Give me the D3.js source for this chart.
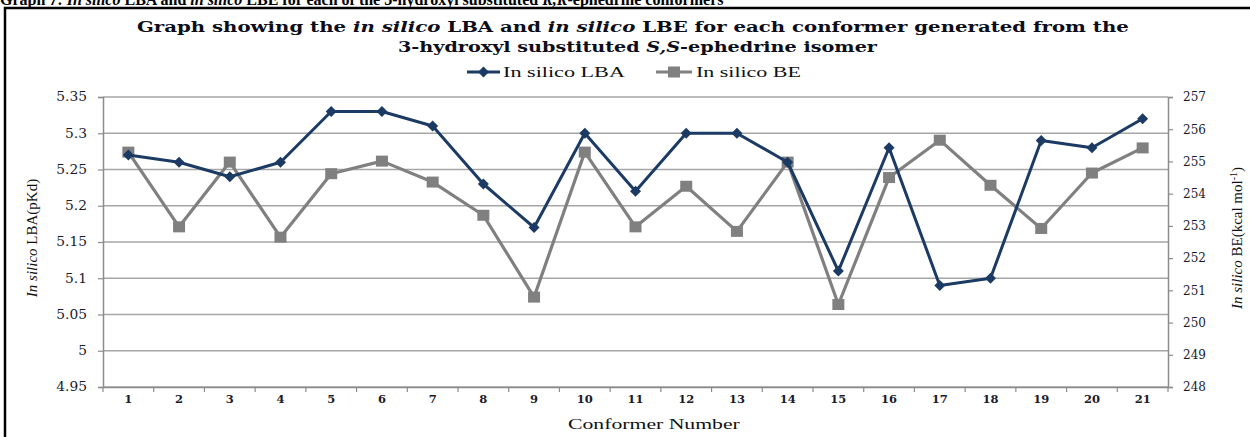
<!DOCTYPE html>
<html>
<head>
<meta charset="utf-8">
<script src="https://cdn.jsdelivr.net/npm/d3@7"></script>
<style>
html,body{margin:0;padding:0;background:#fff;}
svg{display:block;}
</style>
</head>
<body>
<script>
const conformers = ["1","2","3","4","5","6","7","8","9","10","11","12","13","14","15","16","17","18","19","20","21"];
const lbaValues = [5.27,5.26,5.24,5.26,5.33,5.33,5.31,5.23,5.17,5.30,5.22,5.30,5.30,5.26,5.11,5.28,5.09,5.10,5.29,5.28,5.32];
const beValues = [255.29,252.97,254.98,252.65,254.62,255.01,254.36,253.33,250.79,255.29,252.97,254.23,252.83,254.98,250.56,254.50,255.66,254.26,252.92,254.64,255.42];
const lbaTicks = [4.95,5,5.05,5.1,5.15,5.2,5.25,5.3,5.35];
const beTicks = [248,249,250,251,252,253,254,255,256,257];

const W = 1250, H = 437;
const m = {left:103, right:1168, top:97, bottom:387};
const navy = "#1b3a64", gray = "#808080", grid = "#a6a6a6", axisCol = "#8c8c8c";

const svg = d3.select("body").append("svg").attr("width",W).attr("height",H);

// horizontally stretch a text element to a target width, keeping an anchor x
function stretch(t, target, ax){
  const w = t.node().getComputedTextLength();
  const s = target / w;
  const y = +t.attr("y");
  t.attr("transform",`translate(${ax},0) scale(${s},1) translate(${-ax},0)`);
}

// frame
svg.append("rect").attr("x",5).attr("y",8).attr("width",1300).attr("height",500)
  .attr("fill","none").attr("stroke","#000").attr("stroke-width",2.5);

// clipped header
const hdr = svg.append("text").attr("x",0).attr("y",5)
  .attr("font-family","Liberation Serif").attr("font-weight","bold").attr("font-size",16);
hdr.append("tspan").text("Graph 7: ");
hdr.append("tspan").attr("font-style","italic").text("In silico");
hdr.append("tspan").text(" LBA and ");
hdr.append("tspan").attr("font-style","italic").text("in silico");
hdr.append("tspan").text(" LBE for each of the 3-hydroxyl substituted ");
hdr.append("tspan").attr("font-style","italic").text("R,R");
hdr.append("tspan").text("-ephedrine conformers");

const x = d3.scaleBand().domain(conformers).range([m.left,m.right]);
const yL = d3.scaleLinear().domain([4.95,5.35]).range([m.bottom,m.top]);
const yR = d3.scaleLinear().domain([248,257]).range([m.bottom,m.top]);
const cx = d => x(d) + x.bandwidth()/2;

// gridlines
svg.append("g").selectAll("line").data(lbaTicks).join("line")
  .attr("x1",m.left).attr("x2",m.right)
  .attr("y1",d=>yL(d)).attr("y2",d=>yL(d))
  .attr("stroke",grid).attr("stroke-width",1.5);

const tickFont = "DejaVu Serif";
// left axis
const gL = svg.append("g").attr("transform",`translate(${m.left},0)`)
  .call(d3.axisLeft(yL).tickValues(lbaTicks).tickSize(5).tickPadding(11).tickFormat(d=>String(+d.toFixed(2))));
gL.select(".domain").attr("stroke",axisCol).attr("stroke-width",1.5);
gL.selectAll(".tick line").attr("stroke",axisCol).attr("stroke-width",1.2);
gL.selectAll(".tick text").attr("font-family",tickFont).attr("font-size",12).attr("fill","#1a1a2a")
  .attr("x",-16/1.15).attr("transform","scale(1.15,1)");

// right axis
const gR = svg.append("g").attr("transform",`translate(${m.right},0)`)
  .call(d3.axisRight(yR).tickValues(beTicks).tickSize(5).tickPadding(10).tickFormat(d3.format("d")));
gR.select(".domain").attr("stroke",axisCol).attr("stroke-width",1.5);
gR.selectAll(".tick line").attr("stroke",axisCol).attr("stroke-width",1.2);
gR.selectAll(".tick text").attr("font-family",tickFont).attr("font-size",12).attr("fill","#1a1a2a");

// bottom axis
const gB = svg.append("g").attr("transform",`translate(0,${m.bottom})`)
  .call(d3.axisBottom(x).tickSize(0).tickPadding(8));
gB.select(".domain").attr("stroke",axisCol).attr("stroke-width",1.5);
gB.selectAll(".tick text").attr("font-family",tickFont).attr("font-weight","bold").attr("font-size",11.5).attr("fill","#1a1a2a");
gB.append("g").selectAll("line").data(conformers.concat(["end"])).join("line")
  .attr("x1",(d,i)=>m.left + i*x.step()).attr("x2",(d,i)=>m.left + i*x.step())
  .attr("y1",0).attr("y2",5).attr("stroke",axisCol).attr("stroke-width",1.2);

// lines
const lineL = d3.line().x((d,i)=>cx(conformers[i])).y(d=>yL(d));
const lineR = d3.line().x((d,i)=>cx(conformers[i])).y(d=>yR(d));
svg.append("path").datum(beValues).attr("d",lineR).attr("fill","none")
  .attr("stroke",gray).attr("stroke-width",3.2).attr("stroke-linejoin","round");
svg.append("g").selectAll("rect").data(beValues).join("rect")
  .attr("x",(d,i)=>cx(conformers[i])-6).attr("y",d=>yR(d)-5.5)
  .attr("width",12).attr("height",11).attr("fill",gray);
svg.append("path").datum(lbaValues).attr("d",lineL).attr("fill","none")
  .attr("stroke",navy).attr("stroke-width",3).attr("stroke-linejoin","round");
svg.append("g").selectAll("path").data(lbaValues).join("path")
  .attr("transform",(d,i)=>`translate(${cx(conformers[i])},${yL(d)})`)
  .attr("d","M0,-5.5L5.5,0L0,5.5L-5.5,0Z")
  .attr("fill",navy);

// title
const titleFont = "DejaVu Serif";
const t1 = svg.append("text").attr("x",137).attr("y",32)
  .attr("font-family",titleFont).attr("font-weight","bold").attr("font-size",15).attr("fill","#0d0d1a");
t1.append("tspan").text("Graph showing the ");
t1.append("tspan").attr("font-style","italic").text("in silico");
t1.append("tspan").text(" LBA and ");
t1.append("tspan").attr("font-style","italic").text("in silico");
t1.append("tspan").text(" LBE for each conformer generated from the");
stretch(t1, 993, 137);
const t2 = svg.append("text").attr("x",398).attr("y",52)
  .attr("font-family",titleFont).attr("font-weight","bold").attr("font-size",15).attr("fill","#0d0d1a");
t2.append("tspan").text("3-hydroxyl substituted ");
t2.append("tspan").attr("font-style","italic").text("S,S");
t2.append("tspan").text("-ephedrine isomer");
stretch(t2, 479, 398);

// legend
const lg = svg.append("g").attr("font-family","Liberation Serif").attr("font-size",15).attr("fill","#111");
lg.append("line").attr("x1",467).attr("x2",500).attr("y1",72).attr("y2",72).attr("stroke",navy).attr("stroke-width",3);
lg.append("path").attr("transform","translate(483.5,72)").attr("d","M0,-5.5L5.5,0L0,5.5L-5.5,0Z").attr("fill",navy);
const l1 = lg.append("text").attr("x",503).attr("y",77).text("In silico LBA");
stretch(l1, 122, 503);
lg.append("line").attr("x1",656).attr("x2",692).attr("y1",72).attr("y2",72).attr("stroke",gray).attr("stroke-width",3);
lg.append("rect").attr("x",668).attr("y",66.5).attr("width",12).attr("height",11).attr("fill",gray);
const l2 = lg.append("text").attr("x",696).attr("y",77).text("In silico BE");
stretch(l2, 105, 696);

// axis titles
const at = svg.append("text").attr("transform","translate(37,238) rotate(-90)").attr("text-anchor","middle")
  .attr("font-family","Liberation Serif").attr("font-size",15).attr("fill","#111");
at.append("tspan").attr("font-style","italic").text("In silico");
at.append("tspan").text(" LBA(pKd)");

const ar = svg.append("text").attr("transform","translate(1242,238) rotate(-90)").attr("text-anchor","middle")
  .attr("font-family","Liberation Serif").attr("font-size",15).attr("fill","#111");
ar.append("tspan").attr("font-style","italic").text("In silico");
ar.append("tspan").text(" BE(kcal mol");
ar.append("tspan").attr("font-size",10).attr("dy",-5).text("-1");
ar.append("tspan").attr("dy",5).text(")");

const xt = svg.append("text").attr("x",568).attr("y",429)
  .attr("font-family","Liberation Serif").attr("font-size",15).attr("fill","#111").text("Conformer Number");
stretch(xt, 172, 568);
</script>
</body>
</html>
